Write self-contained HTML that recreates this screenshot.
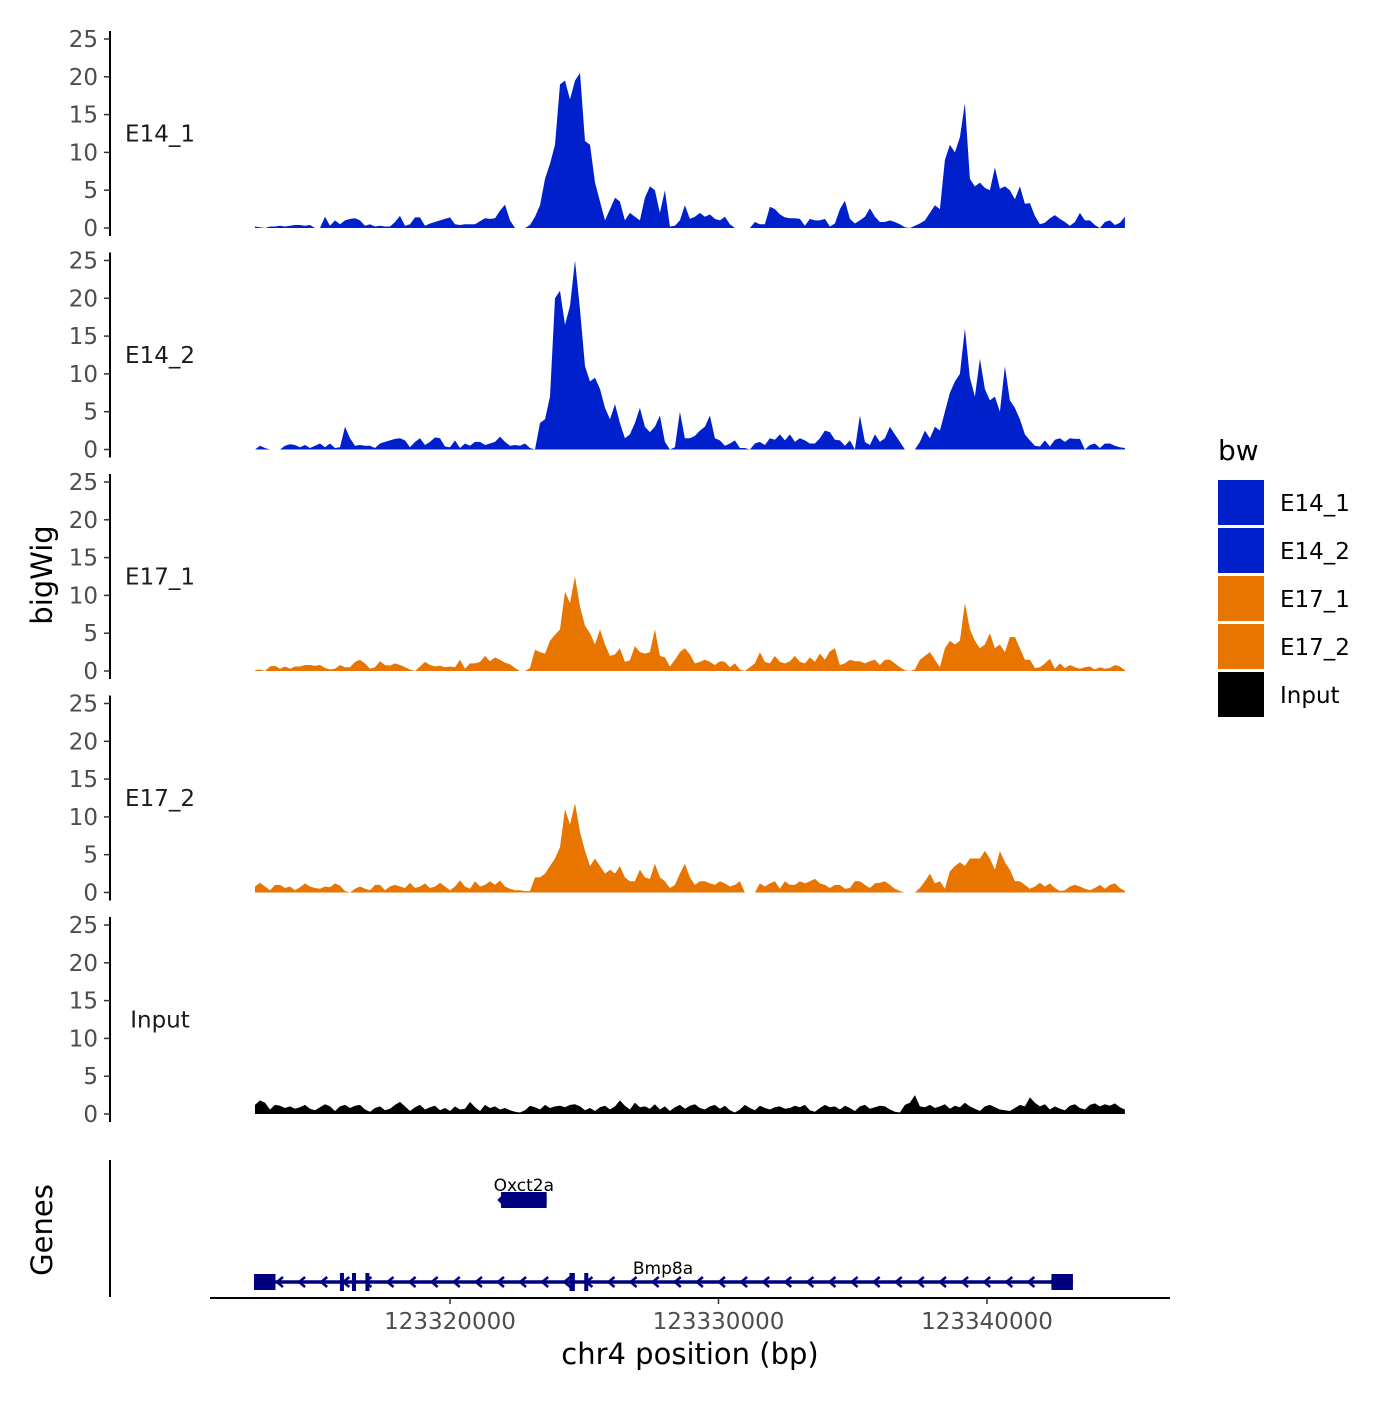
<!DOCTYPE html>
<html><head><meta charset="utf-8"><style>
body{margin:0;background:#fff}
svg text{font-family:"DejaVu Sans","Liberation Sans",sans-serif}
</style></head><body>
<svg id="c" width="1400" height="1400" xmlns="http://www.w3.org/2000/svg"></svg>
<script>
const tracks = ["E14_1","E14_2","E17_1","E17_2","Input"];
const trackColors = ["#0020CC","#0020CC","#E87500","#E87500","#000000"];
const yTicks = [0,5,10,15,20,25];
const xTicks = [123320000,123330000,123340000];
const binStart = 123312737;
const binStep = 186.2;
const e14_1 = [0.2,0.1,0,0.2,0.2,0.3,0.2,0.3,0.4,0.4,0.3,0.4,0,0,1.5,0.3,1,0.5,1,1.2,1.3,1,0.3,0.5,0.2,0.3,0.2,0.2,0.8,1.6,0.3,0.5,1.4,1.4,0.3,0.6,0.8,1,1.2,1.4,0.5,0.4,0.5,0.5,0.5,0.9,1.3,1.2,1.3,2.3,3.1,1,0,0,0,0.4,1.5,3,6.5,8.5,11,19,19.5,17,19.5,20.5,11.5,11,6,3.5,1,2.5,4,3.5,1,2,1.5,1,4,5.5,5,2,5,0.2,0.3,1,3,1.2,1.5,2,1.5,1.8,1.2,1,1.5,0.5,0,0,0,0,0.8,0.5,0.5,2.8,2.5,1.8,1.4,1.3,1.3,1.2,0.3,1.2,1,1,1.2,0.2,0.6,2.5,3.6,1.2,0.6,1,1.5,2.6,1.5,0.8,0.8,1,0.8,0.5,0.1,0,0.3,0.6,1,2,3,2.5,9,11,10,12,16.5,6.5,5.5,6,5.3,5,8,5.2,5.5,5,3.8,5.5,3.2,3.3,1.6,0.5,0.7,1.3,1.7,1.2,0.8,0.3,0.8,2,1,1,0.4,0,0.8,1,0.4,0.7,1.5];
const e14_2 = [0,0.5,0.2,0,0,0,0.5,0.7,0.6,0.3,0.6,0.2,0.5,0.8,0.3,0.8,0.2,0.3,3,1.5,0.5,0.6,0.5,0.5,0.2,0.8,1,1.2,1.4,1.5,1.2,0.3,1,1.5,0.6,1,1.6,1.5,0.4,0.3,1.2,0.2,0.8,0.5,1,1,0.6,0.8,1,1.7,1,0.5,0.6,0.5,0.8,0.2,0,3.5,4,7,20,21,16.5,19,25,18.5,11,9,9.5,8,5.5,4,6,3.5,1.5,2,3.5,5.5,3,2.3,3,4.5,1,0,0.3,5,1.5,1.5,1.8,2.5,3,4.5,1.5,1.2,0.5,0.8,1.2,0.2,0.2,0,0.8,1,0.6,1.5,1.3,2,1.2,2,1,1.5,1.2,0.8,0.8,1.5,2.5,2.3,1.3,1.2,0.5,1.2,0,4.5,1,0.6,2,1,1.5,3,2,1,0,0,0,1,2.5,1.5,3,2.5,5,7.5,9,10,16,9.5,7,12,8,6.5,7,5,11,6.5,5.5,4,2,1.2,0.5,0.4,1.2,0.4,1.3,1.5,1,1.5,1.4,1.4,0,0.6,0.8,0.2,0.8,0.8,0.5,0.3,0.2];
const e17_1 = [0.1,0.2,0,0.6,0.7,0.3,0.6,0.3,0.6,0.6,0.8,0.8,0.7,0.8,0.4,0.2,0.3,0.8,0.5,0.5,1.2,1.5,1,0.3,0.5,1.3,0.8,0.7,1,0.8,0.5,0.2,0,0.6,1.2,0.8,0.6,0.7,0.5,0.6,0.5,1.5,0.3,1,1,1.2,2,1.3,1.8,1.5,1.1,0.9,0.4,0,0,0.4,2.8,2.5,2.3,4,4.8,5.5,10.5,9,12.5,8.5,6,5,3.5,5.5,3.5,2,2.2,3,1.2,1.4,3.3,2.5,2.3,2.5,5.5,2,1.8,0.6,1.5,2.5,3,2.2,1,1.2,1.5,1.2,0.8,1.3,1.2,0.5,1,0.2,0,0.5,1,2.5,1.2,1,2,1.2,1,1.3,2,1.2,1,1.8,1.2,2.3,1.5,2.6,3,0.8,1,1.5,1.3,1.3,1,1.3,1.5,0.8,1.5,1.5,1,0.5,0.1,0,0.2,1.5,2,2.5,1.5,0.5,3,4,3.5,4,9,5.5,4,3,3.5,5,3,3.5,2.5,4.5,4.5,3,1.5,1.5,0.4,0.5,1,1.6,0.3,1,0.4,0.8,0.5,0.3,0.5,0.6,0.2,0.5,0.3,0.4,0.8,0.6,0.1];
const e17_2 = [0.8,1.3,0.8,0.3,1,1,0.6,0.8,0.3,0.7,1.2,0.8,0.6,0.5,0.8,0.7,1.2,0.9,0.2,0,0.5,0.8,0.5,0.3,1,1,0.3,0.8,1,0.8,0.6,1.3,0.6,0.8,1.2,0.6,0.8,1.3,0.8,0.3,0.8,1.6,0.8,0.5,1.5,0.8,1,1.5,1,1.6,0.8,0.5,0.3,0.3,0.2,0.2,2,2,2.5,3.5,4.5,6,11,9,11.8,8,5.5,3.5,4.5,3.5,2.5,3,2.5,3.5,2,1.5,1.5,3,2,1.8,3.8,2,1.5,0.6,1,2.5,3.8,2,1,1.5,1.5,1.2,1,1.5,1.2,0.8,1,1.5,0,0,0,1.2,0.8,1.2,1.5,0.5,1.5,1,1,1.5,1.2,1.5,1.8,1.2,1,0.6,1,1,0.5,0.6,1.5,1.5,1,0.6,1.2,1.3,1.5,1,0.5,0.2,0,0,0,0.6,1.5,2.5,1.2,1.5,0.5,2.8,3.5,4,3.5,4.5,4.5,4.5,5.5,4.5,3,5.5,4,3,1.5,1.5,1,0.5,0.8,1.3,0.8,1.2,0.6,0.2,0.3,0.8,1,0.8,0.5,0.3,0.6,1,0.5,1,1.2,0.6,0.2];
const input = [1.2,1.8,1.5,0.6,1.2,1.1,0.8,1,0.7,0.9,1.2,0.7,0.5,0.9,1.3,1,0.4,1,1.2,0.8,1.1,1.2,0.6,0.3,0.8,1,0.5,0.7,1.2,1.6,1,0.4,0.9,1.2,0.6,0.9,1.1,0.5,0.8,0.4,1,0.6,0.7,1.6,0.9,0.4,1.2,0.8,1,0.6,0.8,0.5,0.3,0.2,0.5,1.1,0.9,0.6,1.2,0.8,1,1.1,0.9,1.2,1.3,1,0.5,0.8,0.4,0.9,1.1,0.6,1,1.8,1.1,0.6,1.5,0.9,1,0.7,1.3,0.6,1,0.4,0.9,1.2,0.7,1.1,1.3,0.8,0.6,1,1.2,0.7,1.1,0.5,0.2,0.6,1.2,0.8,0.5,1.1,0.8,0.6,0.9,1,0.7,0.8,1.1,0.9,1.2,0.5,0.3,0.8,1.2,0.9,1,0.6,1.1,0.8,0.4,1,1.2,0.7,0.9,1.1,1,0.6,0.3,0.2,1.2,1.5,2.5,1,0.9,1.2,0.8,1,1.3,0.7,1.1,0.9,1.5,1,0.7,0.4,1,1.2,0.9,0.6,0.5,0.4,0.8,1.2,1,2.2,1.5,1,1.3,0.6,1,0.7,0.5,1.1,1.3,0.8,0.6,1.2,1.4,1,1.3,1.1,1.4,0.9,0.6];
const trackData = [e14_1,e14_2,e17_1,e17_2,input];
const genes = ["Oxct2a","Bmp8a"];
const geneStart = [123321900,123312700];
const geneEnd = [123323600,123343200];
const exonStarts = [[123321900],[123312700,123315900,123316350,123316850,123324450,123325000,123342400]];
const exonEnds = [[123323600],[123313500,123316050,123316500,123317000,123324650,123325150,123343200]];

const svg = document.getElementById('c');
const NS = 'http://www.w3.org/2000/svg';
function mk(tag, attrs, parent){const e=document.createElementNS(NS,tag);for(const k in attrs)e.setAttribute(k,attrs[k]);(parent||svg).appendChild(e);return e;}
const xScale = bp => 450 + (bp-123320000)/10000*268.5;
const panelBase = [228,449.5,671,892.5,1114];
const yPx = v => v*7.56;

tracks.forEach((name,t)=>{
  const g = mk('g',{});
  
  
  const base = panelBase[t];
  const data = trackData[t];
  let d = 'M'+xScale(binStart)+','+base;
  data.forEach((v,i)=>{d+=' L'+xScale(binStart+i*binStep).toFixed(1)+','+(base-yPx(v)).toFixed(1);});
  d += ' L'+xScale(binStart+(data.length-1)*binStep).toFixed(1)+','+base+' Z';
  const p = mk('path',{d:d,fill:trackColors[t]},g);
  
  
  const ax = mk('line',{x1:110,x2:110,y1:base-yPx(25)-8,y2:base+8,stroke:'#000','stroke-width':2},g);
  
  
  yTicks.forEach(v=>{
    const y = base-yPx(v);
    mk('line',{x1:104,x2:110,y1:y,y2:y,stroke:'#333','stroke-width':1.5},g);
    const tx = mk('text',{x:98,y:y+8,'text-anchor':'end','font-size':23,fill:'#4d4d4d'},g);
    tx.textContent = v;
    
    
  });
  const lb = mk('text',{x:160,y:base-yPx(12.5)+8,'text-anchor':'middle','font-size':23,fill:'#1a1a1a'},g);
  lb.textContent = name;
  
  
});

const yt = mk('text',{x:0,y:0,transform:'translate(52,575) rotate(-90)','text-anchor':'middle','font-size':29,fill:'#000'});
yt.textContent='bigWig';



const gl = mk('line',{x1:110,x2:110,y1:1160,y2:1297,stroke:'#000','stroke-width':2});


const gt = mk('text',{x:0,y:0,transform:'translate(52,1230) rotate(-90)','text-anchor':'middle','font-size':29,fill:'#000'});
gt.textContent='Genes';


const geneY = [1200,1282];
const geneLabelY = [1191,1274];
genes.forEach((gname,gi)=>{
  const g = mk('g',{});
  
  
  const y = geneY[gi];
  const x1 = xScale(geneStart[gi]), x2 = xScale(geneEnd[gi]);
  mk('line',{x1:x1,x2:x2,y1:y,y2:y,stroke:'#000080','stroke-width':3.5},g);
  if(gi===1){
    for(let x=x1+25;x<x2-8;x+=22.1){
      mk('polyline',{points:(x+4)+','+(y-5)+' '+(x-2)+','+y+' '+(x+4)+','+(y+5),fill:'none',stroke:'#000080','stroke-width':2.5},g);
    }
  } else {
    mk('polyline',{points:(x1+3)+','+(y-5)+' '+(x1-2)+','+y+' '+(x1+3)+','+(y+5),fill:'none',stroke:'#000080','stroke-width':2.5},g);
  }
  exonStarts[gi].forEach((s,k)=>{
    const a=xScale(s), b=xScale(exonEnds[gi][k]);
    const big = (b-a)>15;
    mk('rect',{x:a,y:big?y-8:y-9,width:Math.max(b-a,3),height:big?16:18,fill:'#000080'},g);
  });
  const lx = gi===0 ? (x1+x2)/2 : 663;
  const t = mk('text',{x:lx,y:geneLabelY[gi],'text-anchor':'middle','font-size':17,fill:'#000'},g);
  t.textContent = gname;
});

const xa = mk('line',{x1:210,x2:1170,y1:1298,y2:1298,stroke:'#000','stroke-width':2});


xTicks.forEach(v=>{
  const x = xScale(v);
  mk('line',{x1:x,x2:x,y1:1298,y2:1304,stroke:'#333','stroke-width':1.5});
  const t = mk('text',{x:x,y:1329,'text-anchor':'middle','font-size':23,fill:'#4d4d4d'});
  t.textContent = v;
  
  
});
const xt = mk('text',{x:690,y:1364,'text-anchor':'middle','font-size':29,fill:'#000'});
xt.textContent='chr4 position (bp)';



const lg = mk('g',{});


const lt = mk('text',{x:1218,y:460,'font-size':28,fill:'#000'},lg);
lt.textContent='bw';
tracks.forEach((name,t)=>{
  const e = mk('g',{},lg);
  
  
  const y = 480+t*48;
  mk('rect',{x:1218,y:y,width:46,height:45,fill:trackColors[t]},e);
  const tx = mk('text',{x:1280,y:y+31,'font-size':23,fill:'#000'},e);
  tx.textContent = name;
});
</script>
</body></html>
